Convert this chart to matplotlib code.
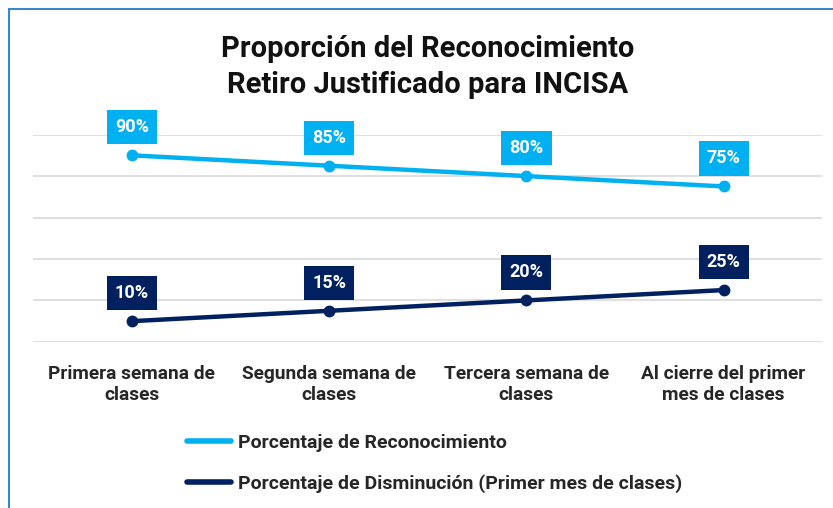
import matplotlib
matplotlib.use("Agg")
from matplotlib import pyplot as plt
from matplotlib.patches import Rectangle
from matplotlib.lines import Line2D

categories = ["Primera semana de\nclases", "Segunda semana de\nclases",
              "Tercera semana de\nclases", "Al cierre del primer\nmes de clases"]
reconocimiento = [90, 85, 80, 75]
disminucion = [10, 15, 20, 25]
series_names = ["Porcentaje de Reconocimiento",
                "Porcentaje de Disminución (Primer mes de clases)"]
title = "Proporción del Reconocimiento\nRetiro Justificado para INCISA"

light = "#00B0F0"
dark = "#002060"

plt.rcParams["font.family"] = ["Roboto", "DejaVu Sans"]

fig = plt.figure(figsize=(8.33, 5.08), dpi=100)
ax = fig.add_axes([0.040, 0.327, 0.947, 0.408])

x = list(range(len(categories)))
handles = []
for vals, col, name in [(reconocimiento, light, series_names[0]),
                        (disminucion, dark, series_names[1])]:
    ax.plot(x, vals, color=col, lw=3.2, marker="o", ms=7.5,
            solid_capstyle="round", zorder=3)
    handles.append(Line2D([], [], color=col, lw=4, solid_capstyle="round",
                          label=name))
    for xi, v in zip(x, vals):
        ax.annotate(f"{v}%", (xi, v), xytext=(0, 28), textcoords="offset pixels",
                    ha="center", va="center", color="white", fontsize=13,
                    fontweight="bold", zorder=4,
                    bbox=dict(boxstyle="square,pad=0.45", fc=col, ec="none"))

ax.set_xlim(-0.5, len(categories) - 0.5)
ax.set_ylim(0, 100)
ax.set_yticks(range(0, 101, 20))
ax.yaxis.grid(True, color="#d9d9d9", lw=1.2)
ax.set_axisbelow(True)
ax.tick_params(axis="y", left=False, labelleft=False)
ax.tick_params(axis="x", length=0, pad=17)
ax.set_xticks(x)
ax.set_xticklabels(categories, fontsize=13.8, fontweight="bold", color="#262626",
                   linespacing=1.2)
for s in ax.spines.values():
    s.set_visible(False)

fig.text(0.513, 0.868, title, ha="center", va="center", fontsize=21,
         fontweight="bold", color="#111111", linespacing=1.4)

leg = fig.legend(handles=handles, loc="upper left",
                 bbox_to_anchor=(0.224, 0.146), frameon=False,
                 prop=dict(size=14, weight="bold"), handlelength=2.3,
                 handletextpad=0.35, labelspacing=1.15, borderaxespad=0,
                 borderpad=0)
for t in leg.get_texts():
    t.set_color("#262626")

fig.patches.append(Rectangle((9 / 833, -0.1), 1.2, 1 - 9 / 508 + 0.1,
                             transform=fig.transFigure, fill=False,
                             ec="#3A86C8", lw=1.5))

fig.savefig("out.png", dpi=100)
